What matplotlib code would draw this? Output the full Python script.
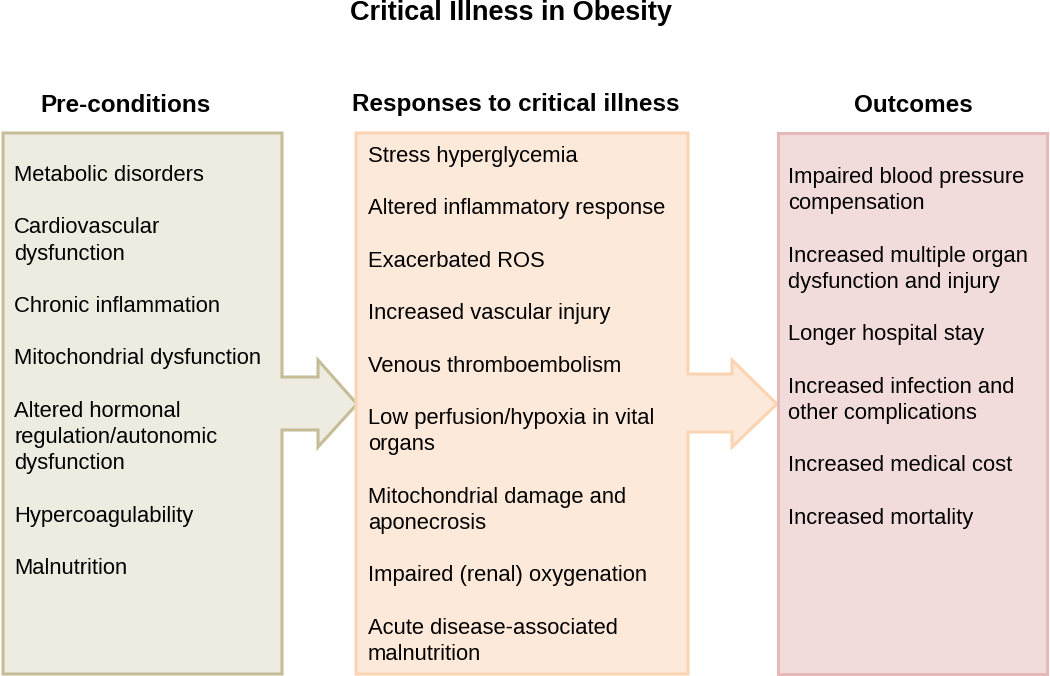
import matplotlib.pyplot as plt
from matplotlib.patches import Polygon

plt.rcParams['font.family'] = ['Liberation Sans', 'DejaVu Sans']

title = "Critical Illness in Obesity"
headers = ["Pre-conditions", "Responses to critical illness", "Outcomes"]

pre_conditions = [
    "Metabolic disorders",
    "Cardiovascular\ndysfunction",
    "Chronic inflammation",
    "Mitochondrial dysfunction",
    "Altered hormonal\nregulation/autonomic\ndysfunction",
    "Hypercoagulability",
    "Malnutrition",
]
responses = [
    "Stress hyperglycemia",
    "Altered inflammatory response",
    "Exacerbated ROS",
    "Increased vascular injury",
    "Venous thromboembolism",
    "Low perfusion/hypoxia in vital\norgans",
    "Mitochondrial damage and\naponecrosis",
    "Impaired (renal) oxygenation",
    "Acute disease-associated\nmalnutrition",
]
outcomes = [
    "Impaired blood pressure\ncompensation",
    "Increased multiple organ\ndysfunction and injury",
    "Longer hospital stay",
    "Increased infection and\nother complications",
    "Increased medical cost",
    "Increased mortality",
]

fig = plt.figure(figsize=(10.5, 6.76), dpi=100)
ax = fig.add_axes([0, 0, 1, 1])
ax.set_xlim(0, 1050)
ax.set_ylim(676, 0)
ax.axis('off')


def box_shape(x0, x1, top, bottom, arrow=None):
    # rectangle, optionally with a right-pointing arrow on its right side
    if arrow is None:
        return [(x0, top), (x1, top), (x1, bottom), (x0, bottom)]
    stem_end, tip, st_top, st_bot, hd_top, hd_bot, tip_y = arrow
    return [(x0, top), (x1, top), (x1, st_top), (stem_end, st_top),
            (stem_end, hd_top), (tip, tip_y), (stem_end, hd_bot),
            (stem_end, st_bot), (x1, st_bot), (x1, bottom), (x0, bottom)]


# (left, right, arrow, fill, edge, text_x, first_line_y, header_x, items)
columns = [
    (3, 282, (318, 357, 377, 430, 360, 447, 404), '#EEEBE0', '#C4BD97', 14, 175.5, 125, pre_conditions),
    (356, 688, (732, 777, 374, 432, 360, 447, 404), '#FDE9D9', '#FBD4B4', 368, 156.5, 516, responses),
    (778, 1047, None, '#F2DCDB', '#E6B9B8', 788, 177.5, 913, outcomes),
]

line_step = 26.2
for x0, x1, arrow, fill, edge, tx, y0, hx, items in columns:
    ax.add_patch(Polygon(box_shape(x0, x1, 133, 674, arrow), closed=True,
                         facecolor=fill, edgecolor=edge, linewidth=2.2,
                         joinstyle='miter'))
    y = y0
    for item in items:
        for line in item.split("\n"):
            ax.text(tx, y, line, fontsize=15.8, color='black',
                    ha='left', va='center')
            y += line_step
        y += line_step

for (x0, x1, arrow, fill, edge, tx, y0, hx, items), h in zip(columns, headers):
    ax.text(hx, 105, h, fontsize=17.5, fontweight='bold', ha='center', va='center')

ax.text(511, 13, title, fontsize=19.5, fontweight='bold', ha='center', va='center')

fig.savefig('out.png', dpi=100, facecolor='white')
